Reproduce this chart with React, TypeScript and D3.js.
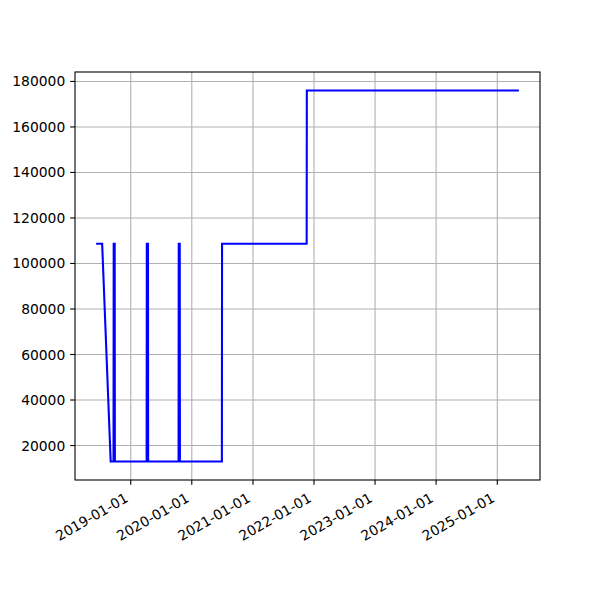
import React from "react";
import * as d3 from "d3";

const dates: string[] = [
  "2018-06-08", "2018-07-14", "2018-09-03", "2018-09-20", "2018-09-21",
  "2018-09-27", "2018-09-28", "2019-04-06", "2019-04-07", "2019-04-14",
  "2019-04-15", "2019-10-14", "2019-10-15", "2019-10-21", "2019-10-22",
  "2020-06-29", "2020-06-30", "2021-11-18", "2021-11-19", "2025-05-10",
];
const values: number[] = [
  108700, 108700, 13000, 13000, 108700,
  108700, 13000, 13000, 108700, 108700,
  13000, 13000, 108700, 108700, 13000,
  13000, 108700, 108700, 176000, 176000,
];
const yTicks: number[] = [20000, 40000, 60000, 80000, 100000, 120000, 140000, 160000, 180000];
const xTickLabels: string[] = [
  "2019-01-01", "2020-01-01", "2021-01-01", "2022-01-01", "2023-01-01", "2024-01-01", "2025-01-01",
];

const W = 600, H = 600;
const L = 75, R = 540, T = 72, B = 480;
const FONT = "'DejaVu Sans', sans-serif";
const FS = 13.89;

export default function App() {
  const parse = d3.utcParse("%Y-%m-%d");
  const pts = dates.map((d, i) => ({ t: parse(d)!, v: values[i] }));
  const [t0, t1] = d3.extent(pts, (p) => +p.t) as [number, number];
  const tp = (t1 - t0) * 0.05;
  const [v0, v1] = d3.extent(pts, (p) => p.v) as [number, number];
  const vp = (v1 - v0) * 0.05;
  const x = d3.scaleUtc().domain([new Date(t0 - tp), new Date(t1 + tp)]).range([L, R]);
  const y = d3.scaleLinear().domain([v0 - vp, v1 + vp]).range([B, T]);
  const line = d3.line<{ t: Date; v: number }>().x((p) => x(p.t)).y((p) => y(p.v));
  const tickLen = 4.86;
  const pad = 4.86;
  const h = 1.164 * FS;

  return (
    <svg width={W} height={H} style={{ position: "absolute", left: 0, top: 0 }}>
      <rect x={0} y={0} width={W} height={H} fill="white" />
      <g>
        {xTickLabels.map((s) => {
          const xx = x(parse(s)!);
          return <line key={"gx" + s} x1={xx} x2={xx} y1={T} y2={B} stroke="#b0b0b0" strokeWidth={1.1} />;
        })}
        {yTicks.map((v) => (
          <line key={"gy" + v} x1={L} x2={R} y1={y(v)} y2={y(v)} stroke="#b0b0b0" strokeWidth={1.1} />
        ))}
      </g>
      <path d={line(pts) ?? ""} fill="none" stroke="#0000ff" strokeWidth={2.08} strokeLinejoin="miter" />
      <rect x={L} y={T} width={R - L} height={B - T} fill="none" stroke="black" strokeWidth={1.1} />
      {yTicks.map((v) => (
        <g key={"ty" + v}>
          <line x1={L - tickLen} x2={L} y1={y(v)} y2={y(v)} stroke="black" strokeWidth={1.1} />
          <text x={L - tickLen - pad} y={y(v)} dy="0.36em" textAnchor="end" fontFamily={FONT} fontSize={FS} fill="black">
            {String(v)}
          </text>
        </g>
      ))}
      {xTickLabels.map((s) => {
        const xx = x(parse(s)!);
        const Y = B + tickLen + pad + 0.866 * h;
        return (
          <g key={"tx" + s}>
            <line x1={xx} x2={xx} y1={B} y2={B + tickLen} stroke="black" strokeWidth={1.1} />
            <text
              transform={`translate(${xx},${Y}) rotate(-30)`}
              dy={-0.236 * FS}
              textAnchor="end"
              fontFamily={FONT}
              fontSize={FS}
              fill="black"
            >
              {s}
            </text>
          </g>
        );
      })}
    </svg>
  );
}
